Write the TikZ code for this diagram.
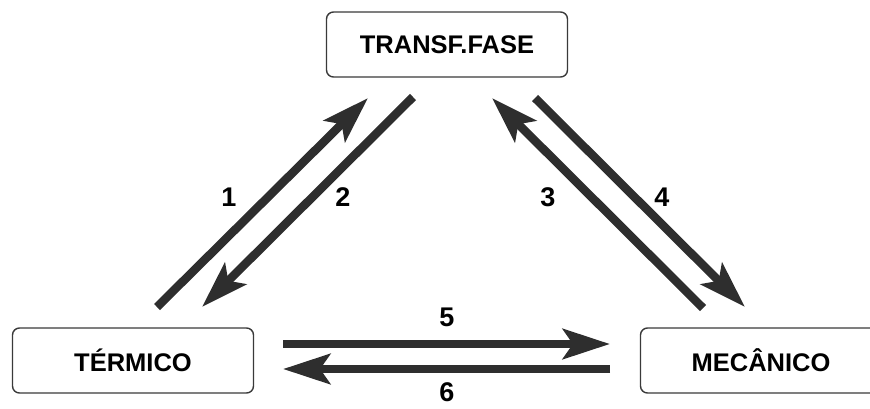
\documentclass[tikz,border=0pt]{standalone}
\usepackage{fontspec}
\setmainfont{Liberation Sans}
\usetikzlibrary{arrows.meta, positioning}
\definecolor{fDark}{HTML}{2E2E2E}
\definecolor{fEdge}{HTML}{3A3A3A}

\tikzset{
  estado/.style={draw=fEdge, line width=1.4pt, rounded corners=7pt, fill=white,
    minimum width=241pt, minimum height=65pt, inner sep=0pt,
    font=\fontsize{25.5}{30}\selectfont\bfseries},
  fluxo/.style={draw=fDark, line width=8.5pt,
    -{Stealth[length=47pt, width=30pt, inset=10pt]}},
  rotulo/.style={inner sep=0pt, font=\fontsize{27}{32}\selectfont\bfseries}
}

\begin{document}
\begin{tikzpicture}[x=1pt, y=-1pt]
  \useasboundingbox (0,0) rectangle (870,408);

  % estados
  \node[estado] (fase) at (447,44.5) {TRANSF.FASE};
  \node[estado] (term) at (133,360.5) {TÉRMICO};
  \node[estado] (mec)  at (761,360.5) {MECÂNICO};

  % pontas das setas
  \coordinate (p1) at (157,307); \coordinate (q1) at (368,98);
  \coordinate (p2) at (413,97);  \coordinate (q2) at (202,307);
  \coordinate (p3) at (703,308); \coordinate (q3) at (492,98);
  \coordinate (p4) at (535,98);  \coordinate (q4) at (745,307);
  \coordinate (p5) at (283,344); \coordinate (q5) at (610,344);
  \coordinate (p6) at (610,369); \coordinate (q6) at (283,369);

  \foreach \k in {1,...,6}
    \draw[fluxo] (p\k) -- (q\k);

  % numeros
  \node[rotulo] (n1) at (229,197) {1};
  \node[rotulo] (n2) at (343,197) {2};
  \node[rotulo] (n3) at (548,197) {3};
  \node[rotulo] (n4) at (662,197) {4};
  \node[rotulo] (n5) at (447,317) {5};
  \node[rotulo] (n6) at (447,392) {6};
\end{tikzpicture}
\end{document}
